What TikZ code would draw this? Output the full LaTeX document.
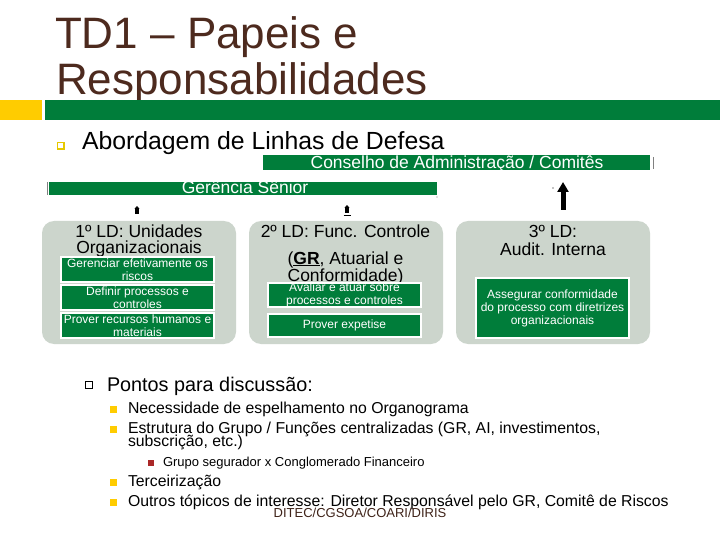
\documentclass[tikz,border=0pt]{standalone}
\usepackage{fontspec}
\setmainfont{Liberation Sans}
\usetikzlibrary{arrows.meta}
\definecolor{dgreen}{RGB}{0,125,58}
\definecolor{panelgray}{RGB}{204,213,204}
\definecolor{titlebrown}{RGB}{77,42,30}
\definecolor{byellow}{RGB}{255,204,0}
\definecolor{bred}{RGB}{170,40,40}
\definecolor{hollowy}{RGB}{230,200,0}
\newcommand{\fsz}[1]{\fontsize{#1}{#1}\selectfont}
\begin{document}
\begin{tikzpicture}[x=1pt,y=-1pt,
  every node/.style={inner sep=0pt, outer sep=0pt},
  panel/.style={fill=panelgray, rounded corners=12pt, minimum width=194pt, minimum height=123pt, anchor=north west},
  gbox/.style={fill=dgreen, draw=white, line width=1.8pt, text=white, align=center, minimum width=153pt, anchor=north west, font=\fontsize{12}{12.5}\selectfont},
  bar/.style={fill=dgreen, anchor=north west},
  bartext/.style={anchor=base, text=white, font=\fsz{17.5}},
  ptitle/.style={anchor=base, font=\fsz{17.5}},
  titletext/.style={anchor=base west, text=titlebrown, font=\fsz{44}},
  lvlone/.style={anchor=base west, font=\fsz{15.8}},
  ybul/.style={fill=byellow},
  smallarrow/.style={line width=3.5pt, -{Triangle[width=5pt,length=3pt]}},
  bigarrow/.style={line width=5pt, -{Triangle[width=11pt,length=10pt]}}
]
\useasboundingbox (0,0) rectangle (720,540);
\fill[white] (0,0) rectangle (720,540);

% title
\node[titletext] (title1) at (55,49) {TD1 – Papeis e};
\node[titletext] (title2) at (56,95) {Responsabilidades};
\fill[byellow] (0,100) rectangle (42,120);
\fill[dgreen] (45,100) rectangle (720,120);

% first bullet
\draw[hollowy, line width=1.3pt, fill=white] (57.5,142.5) rectangle (64,149);
\node[anchor=base west, font=\fsz{24.8}] (abord) at (82,150) {Abordagem de Linhas de Defesa};

% bars
\node[bar, minimum width=387pt, minimum height=15pt] (cons) at (263,155) {};
\node[bartext] (consT) at (457,168.5) {Conselho de Administração / Comitês};
\draw[gray, line width=0.6pt] (653,157) -- (653,169);
\node[bar, minimum width=388pt, minimum height=13pt] (ger) at (49,182) {};
\node[bartext] (gerT) at (245,194) {Gerência Sênior};
\draw[gray, line width=0.6pt] (47,182) -- (47,195);
\fill[gray] (437,197) circle (0.6pt);
\fill[black] (553,188) circle (0.7pt);

% arrows
\coordinate (a1s) at (137,214);
\coordinate (a1e) at (137,206);
\coordinate (a2s) at (347,213);
\coordinate (a2e) at (347,205);
\coordinate (a3s) at (563,210);
\coordinate (a3e) at (563,182);
\draw[smallarrow] (a1s) -- (a1e);
\draw[smallarrow] (a2s) -- (a2e);
\draw[black, line width=0.6pt] (343.5,215.5) -- (351,215.5);
\draw[bigarrow] (a3s) -- (a3e);

% panels
\node[panel] (p1) at (42,221) {};
\node[panel] (p2) at (249,221) {};
\node[panel] (p3) at (456,221) {};

% panel titles
\node[ptitle] (t1a) at (139,237) {1º LD: Unidades};
\node[ptitle] (t1b) at (139,254) {Organizacionais};
\node[ptitle] (t2a) at (345.5,237) {2º LD: Func. Controle};
\node[ptitle] (t2b) at (345.5,264) {(\underline{\textbf{GR}}, Atuarial e};
\node[ptitle] (t2c) at (345.5,281) {Conformidade)};
\node[ptitle] (t3a) at (553,237) {3º LD:};
\node[ptitle] (t3b) at (553,255) {Audit. Interna};

% inner boxes
\node[gbox, minimum height=25pt] (b11) at (61,257) {Gerenciar efetivamente os\\riscos};
\node[gbox, minimum height=25pt] (b12) at (61,285) {Definir processos e\\controles};
\node[gbox, minimum height=25pt] (b13) at (61,313) {Prover recursos humanos e\\materiais};
\node[gbox, minimum height=24pt] (b21) at (268,283) {Avaliar e atuar sobre\\processos e controles};
\node[gbox, minimum height=23pt] (b22) at (268,314) {Prover expetise};
\node[gbox, minimum height=60pt, font=\fontsize{12}{13}\selectfont] (b31) at (476,278) {Assegurar conformidade\\do processo com diretrizes\\organizacionais};

% discussion points
\draw[black, line width=0.7pt] (85,381.5) rectangle (92,388.5);
\node[anchor=base west, font=\fsz{19.8}] (pontos) at (107,391) {Pontos para discussão:};

\fill[ybul] (110,406) rectangle (117,413);
\node[lvlone] (l1) at (128,413) {Necessidade de espelhamento no Organograma};
\fill[ybul] (110,426) rectangle (117,433);
\node[lvlone] (l2) at (128,433) {Estrutura do Grupo / Funções centralizadas (GR, AI, investimentos,};
\node[lvlone] (l2b) at (128,446) {subscrição, etc.)};
\fill[bred] (148,459.5) rectangle (154,465.5);
\node[anchor=base west, font=\fsz{13}] (l3) at (163,466) {Grupo segurador x Conglomerado Financeiro};
\fill[ybul] (110,479) rectangle (117,486);
\node[lvlone] (l4) at (128,486) {Terceirização};
\fill[ybul] (110,499) rectangle (117,506);
\node[lvlone] (l5) at (128,506) {Outros tópicos de interesse: Diretor Responsável pelo GR, Comitê de Riscos};
\node[anchor=base, text=titlebrown!80!black, font=\fsz{13}] (foot) at (360,517) {DITEC/CGSOA/COARI/DIRIS};
\end{tikzpicture}
\end{document}
